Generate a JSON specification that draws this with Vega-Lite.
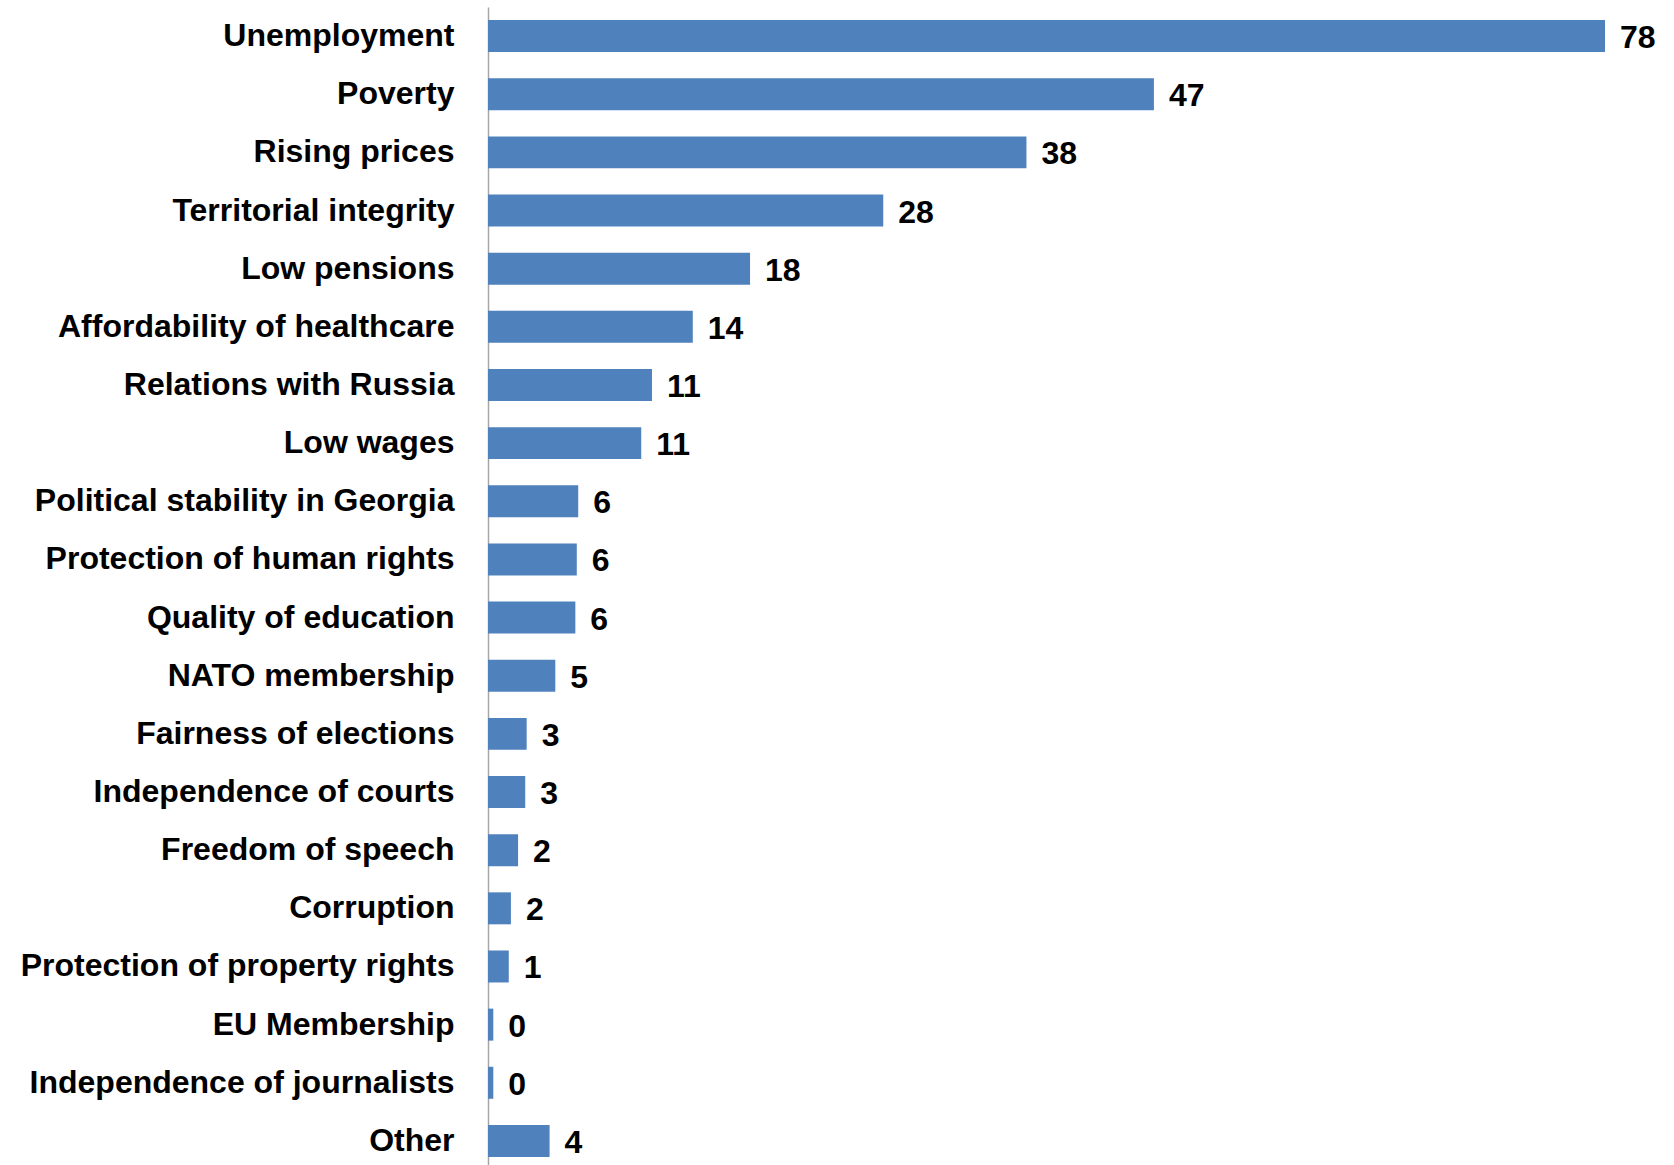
{
  "$schema": "https://vega.github.io/schema/vega-lite/v6.json",
  "autosize": {"type": "none"},
  "padding": {"left": 488, "top": 7, "right": 69, "bottom": 0},
  "width": 1117,
  "height": 1163,
  "background": "white",
  "config": {"view": {"stroke": null}},
  "data": {
    "values": [
      {"issue": "Unemployment", "value": 78.0},
      {"issue": "Poverty", "value": 46.5},
      {"issue": "Rising prices", "value": 37.6},
      {"issue": "Territorial integrity", "value": 27.6},
      {"issue": "Low pensions", "value": 18.3},
      {"issue": "Affordability of healthcare", "value": 14.3},
      {"issue": "Relations with Russia", "value": 11.45},
      {"issue": "Low wages", "value": 10.7},
      {"issue": "Political stability in Georgia", "value": 6.3},
      {"issue": "Protection of human rights", "value": 6.2},
      {"issue": "Quality of education", "value": 6.1},
      {"issue": "NATO membership", "value": 4.7},
      {"issue": "Fairness of elections", "value": 2.7},
      {"issue": "Independence of courts", "value": 2.6},
      {"issue": "Freedom of speech", "value": 2.1},
      {"issue": "Corruption", "value": 1.6},
      {"issue": "Protection of property rights", "value": 1.45},
      {"issue": "EU Membership", "value": 0.37},
      {"issue": "Independence of journalists", "value": 0.37},
      {"issue": "Other", "value": 4.3}
    ]
  },
  "encoding": {
    "y": {
      "field": "issue",
      "type": "nominal",
      "sort": null,
      "scale": {"paddingInner": 0.45, "paddingOuter": 0.225},
      "axis": {
        "title": null,
        "ticks": false,
        "labelPadding": 34,
        "labelFont": "Liberation Sans",
        "labelFontWeight": "bold",
        "labelFontSize": 32,
        "labelColor": "#000000",
        "labelLimit": 600,
        "domainColor": "#a6a6a6",
        "domainWidth": 1.5,
        "grid": false
      }
    },
    "x": {
      "field": "value",
      "type": "quantitative",
      "scale": {"domain": [0, 78], "nice": false, "zero": true},
      "axis": null
    }
  },
  "layer": [
    {
      "mark": {"type": "bar", "color": "#4f81bd", "clip": false}
    },
    {
      "mark": {
        "type": "text",
        "align": "left",
        "baseline": "middle",
        "dx": 15,
        "dy": 2,
        "font": "Liberation Sans",
        "fontWeight": "bold",
        "fontSize": 32,
        "color": "#000000"
      },
      "encoding": {
        "text": {"field": "value", "type": "quantitative", "format": ".0f"}
      }
    }
  ]
}
